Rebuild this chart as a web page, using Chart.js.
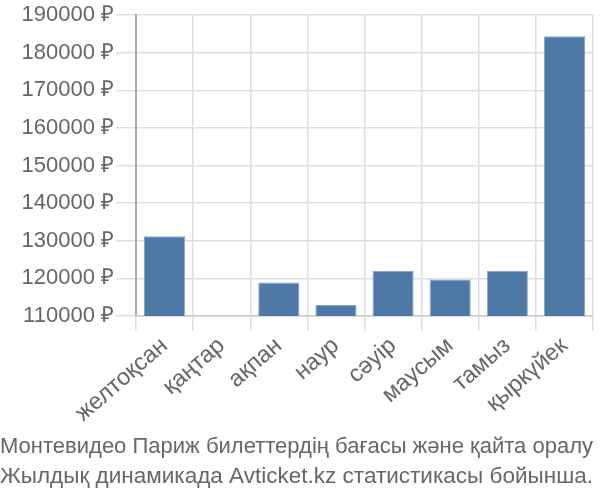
<!DOCTYPE html>
<html>
<head>
<meta charset="utf-8">
<script src="https://cdn.jsdelivr.net/npm/chart.js@4/dist/chart.umd.min.js"></script>
<style>
  html, body { margin: 0; padding: 0; background: #fff; }
  #wrap { width: 600px; height: 500px; }
</style>
</head>
<body>
<div id="wrap"><canvas id="c" width="600" height="500"></canvas></div>
<script>
const categories = ["желтоқсан", "қаңтар", "ақпан", "наур", "сәуір", "маусым", "тамыз", "қыркүйек"];
const prices = [131200, null, 118900, 112900, 122000, 119700, 122000, 184400];
const yTicks = [110000, 120000, 130000, 140000, 150000, 160000, 170000, 180000, 190000];
const currency = " ₽";
const titleLines = ["Монтевидео Париж билеттердің бағасы және қайта оралу", "Жылдық динамикада Avticket.kz статистикасы бойынша."];

const FONT = "'Liberation Sans', Arial, sans-serif";
const TXT = "#666";

new Chart(document.getElementById('c'), {
  type: 'bar',
  data: {
    labels: categories,
    datasets: [{
      data: prices,
      backgroundColor: '#4e79a7',
      borderColor: '#86a3c6',
      borderWidth: 1,
      barPercentage: 0.9,
      categoryPercentage: 0.8
    }]
  },
  options: {
    responsive: false,
    animation: false,
    devicePixelRatio: 1,
    layout: { padding: { top: 14, right: 7, left: 0, bottom: 8 } },
    plugins: {
      legend: { display: false },
      tooltip: { enabled: false },
      title: {
        display: true,
        position: 'bottom',
        text: titleLines,
        color: TXT,
        font: { family: FONT, size: 22.6, weight: 'normal', lineHeight: 1.33 },
        padding: { top: 0, bottom: 0 }
      }
    },
    scales: {
      y: {
        min: yTicks[0],
        max: yTicks[yTicks.length - 1],
        afterBuildTicks: (s) => { s.ticks = yTicks.map(v => ({ value: v })); },
        afterFit: (s) => { s.width = 136; },
        ticks: {
          color: TXT,
          font: { family: FONT, size: 22 },
          padding: 2,
          callback: (v) => v + currency
        },
        grid: { color: '#dedede', lineWidth: 1.5, tickLength: 20 },
        border: { color: '#aaa', width: 2 }
      },
      x: {
        afterFit: (s) => { s.height = 116; },
        ticks: {
          color: TXT,
          font: { family: FONT, size: 23.5 },
          minRotation: 41,
          maxRotation: 41,
          padding: 1
        },
        grid: { color: '#dedede', lineWidth: 1.5, tickLength: 15, offset: true },
        border: { color: '#ccc', width: 1.5 }
      }
    }
  }
});
</script>
</body>
</html>
